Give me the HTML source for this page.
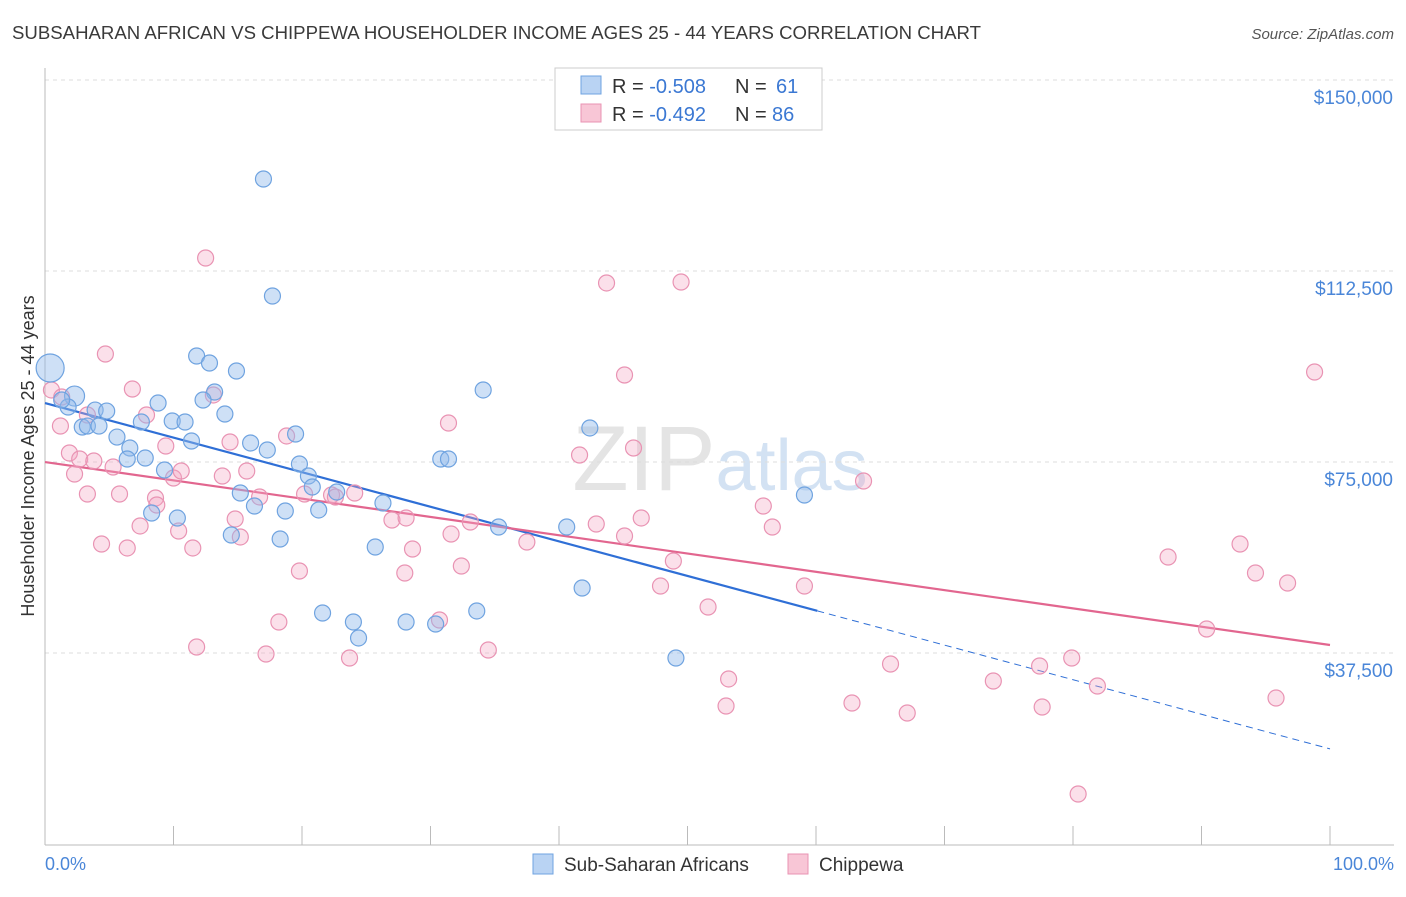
<!DOCTYPE html>
<html><head><meta charset="utf-8"><style>
body{margin:0;background:#fff;font-family:"Liberation Sans",sans-serif;}
svg text{font-family:"Liberation Sans",sans-serif;}
</style></head><body>
<svg id="chart" width="1406" height="892" xmlns="http://www.w3.org/2000/svg">
<text x="12" y="39" font-size="18" fill="#3a3a3a" textLength="969" lengthAdjust="spacingAndGlyphs">SUBSAHARAN AFRICAN VS CHIPPEWA HOUSEHOLDER INCOME AGES 25 - 44 YEARS CORRELATION CHART</text>
<text x="1394" y="39" font-size="15" fill="#555" text-anchor="end" font-style="italic">Source: ZipAtlas.com</text>
<text x="720" y="490" font-size="92" fill="#e4e4e4" text-anchor="middle" font-family="Liberation Serif">ZIP<tspan fill="#d3e2f3" font-family="Liberation Sans" font-size="72">atlas</tspan></text>
<g id="grid"></g>
<g id="axes"></g>
<g id="lines"></g>
<g id="pts"></g>
<text transform="translate(34,456) rotate(-90)" font-size="18" fill="#333" text-anchor="middle">Householder Income Ages 25 - 44 years</text>
<text x="45" y="870" font-size="18" fill="#4a86d8">0.0%</text>
<text x="1394" y="870" font-size="18" fill="#4a86d8" text-anchor="end">100.0%</text>
<g>
<rect x="555" y="68" width="267" height="62" fill="#fff" stroke="#ccc"/>
<rect x="581" y="76" width="20" height="18" fill="#b9d3f3" stroke="#6fa3e0"/>
<rect x="581" y="104" width="20" height="18" fill="#f8c6d6" stroke="#e993b3"/>
<text x="612" y="93" font-size="20" fill="#333">R = <tspan fill="#3b78d3">-0.508</tspan></text>
<text x="735" y="93" font-size="20" fill="#333">N =</text>
<text x="776" y="93" font-size="20" fill="#3b78d3">61</text>
<text x="612" y="121" font-size="20" fill="#333">R = <tspan fill="#3b78d3">-0.492</tspan></text>
<text x="735" y="121" font-size="20" fill="#333">N =</text>
<text x="772" y="121" font-size="20" fill="#3b78d3">86</text>
</g>
<g>
<rect x="533" y="854" width="20" height="20" fill="#b9d3f3" stroke="#6fa3e0"/>
<text x="564" y="871" font-size="19" fill="#333">Sub-Saharan Africans</text>
<rect x="788" y="854" width="20" height="20" fill="#f8c6d6" stroke="#e993b3"/>
<text x="819" y="871" font-size="19" fill="#333">Chippewa</text>
</g>
</svg>
<script>
const yTicks=[37500,75000,112500,150000];
const yTickLabels=["$37,500","$75,000","$112,500","$150,000"];
const blueX=[0.4,2.3,1.8,3.9,4.8,2.9,3.3,5.6,4.2,6.6,6.4,7.8,8.8,7.5,9.9,10.9,11.4,11.8,12.8,14.9,13.2,12.3,14.0,16.0,17.3,19.5,15.2,16.3,9.3,8.3,10.3,14.5,18.3,18.7,19.8,20.5,20.8,21.3,22.7,26.3,25.7,17.0,17.7,34.1,30.8,31.4,35.3,40.6,42.4,41.8,21.6,24.0,24.4,28.1,30.4,33.6,49.1,59.1,1.3];
const blueY=[93450,87950,85800,85200,85000,81870,82060,79900,82060,77750,75590,75780,86580,82850,83050,82850,79120,95810,94440,92870,88740,87170,84420,78730,77360,80500,68910,66360,73430,64990,64000,60670,59880,65380,74610,72250,70090,65580,69110,66950,58310,130560,107590,89140,75590,75590,62240,62240,81680,50260,45350,43590,40450,43590,43190,45750,36520,68520,87170];
const blueR=[14,10,8,8,8,8,8,8,8,8,8,8,8,8,8,8,8,8,8,8,8,8,8,8,8,8,8,8,8,8,8,8,8,8,8,8,8,8,8,8,8,8,8,8,8,8,8,8,8,8,8,8,8,8,8,8,8,8,8];
const pinkX=[0.5,1.3,1.2,3.3,1.9,2.3,3.3,2.7,3.8,4.7,5.3,5.8,4.4,6.4,6.8,7.9,7.4,8.6,8.7,9.4,10.0,10.6,10.4,11.5,12.5,13.1,13.8,14.4,14.8,15.2,15.7,16.7,18.8,20.2,19.8,22.3,22.6,24.1,18.2,17.2,11.8,23.7,27.0,28.1,28.6,28.0,31.4,31.6,32.4,30.7,33.1,34.5,37.5,41.6,42.9,43.7,45.1,45.8,45.1,46.4,48.9,47.9,49.5,51.6,53.2,53.0,55.9,56.6,59.1,63.7,62.8,65.8,67.1,73.8,77.4,77.6,79.9,81.9,87.4,90.4,93.0,94.2,96.7,95.8,98.8,80.4];
const pinkY=[89140,87760,82070,84230,76770,72640,68720,75590,75200,96200,74020,68720,58900,58120,89330,84230,62440,67930,66560,78140,71860,73230,61450,58120,115050,88160,72250,78930,63810,60280,73230,68130,80110,68720,53600,68520,68130,68910,43590,37300,38680,36520,63610,64010,57920,53210,82660,60860,54580,43980,63220,38090,59290,76370,62830,110150,92080,77750,60470,64010,55560,50650,110340,46530,32400,27090,66360,62240,50650,71270,27680,35340,25720,32000,34950,26900,36520,31020,56350,42210,58900,53210,51240,28660,92670,9820];
const blueFit=[86580,-679];
const pinkFit=[74990,-359.2];
const X0=45,X1=1330,NS="http://www.w3.org/2000/svg";
const xs=p=>X0+(X1-X0)*p/100;
const ys=v=>653-(v-37500)*191/37500;
function mk(t,a,parent){const e=document.createElementNS(NS,t);for(const k in a)e.setAttribute(k,a[k]);document.getElementById(parent).appendChild(e);return e;}
yTicks.forEach((v,i)=>{
 const g=mk('line',{x1:45,x2:1394,y1:ys(v),y2:ys(v),stroke:'#ddd','stroke-dasharray':'4,4'},'grid');
 
 
 const t=mk('text',{x:1393,y:ys(v)+24,'font-size':19,fill:'#4a86d8','text-anchor':'end'},'grid');
 t.textContent=yTickLabels[i];
 
 
});
const ax=mk('line',{x1:45,x2:45,y1:68,y2:845,stroke:'#bbb'},'axes');


const bx=mk('line',{x1:45,x2:1394,y1:845,y2:845,stroke:'#bbb'},'axes');


for(let i=0;i<=10;i++){const tk=mk('line',{x1:xs(i*10),x2:xs(i*10),y1:826,y2:845,stroke:'#bbb'},'axes');
 
 }
function pts(X,Y,R,fill,stroke,name){X.forEach((x,i)=>{const c=mk('circle',{cx:xs(x),cy:ys(Y[i]),r:R?R[i]:8,fill:fill,stroke:stroke,'stroke-width':1.2},'pts');
 
 });}
pts(pinkX,pinkY,null,'rgba(244,167,195,0.35)','#e993b3','chippewa-point');
pts(blueX,blueY,blueR,'rgba(147,187,235,0.45)','#6fa3e0','subsaharan-point');
const f=(fit,x)=>fit[0]+fit[1]*x;
const l1=mk('line',{x1:xs(0),y1:ys(f(blueFit,0)),x2:xs(60.1),y2:ys(f(blueFit,60.1)),stroke:'#2f6fd6','stroke-width':2.2},'lines');


const l2=mk('line',{x1:xs(60.1),y1:ys(f(blueFit,60.1)),x2:xs(100),y2:ys(f(blueFit,100)),stroke:'#2f6fd6','stroke-width':1,'stroke-dasharray':'7,5'},'lines');


const l3=mk('line',{x1:xs(0),y1:ys(f(pinkFit,0)),x2:xs(100),y2:ys(f(pinkFit,100)),stroke:'#e2668f','stroke-width':2.2},'lines');


</script>
</body></html>
